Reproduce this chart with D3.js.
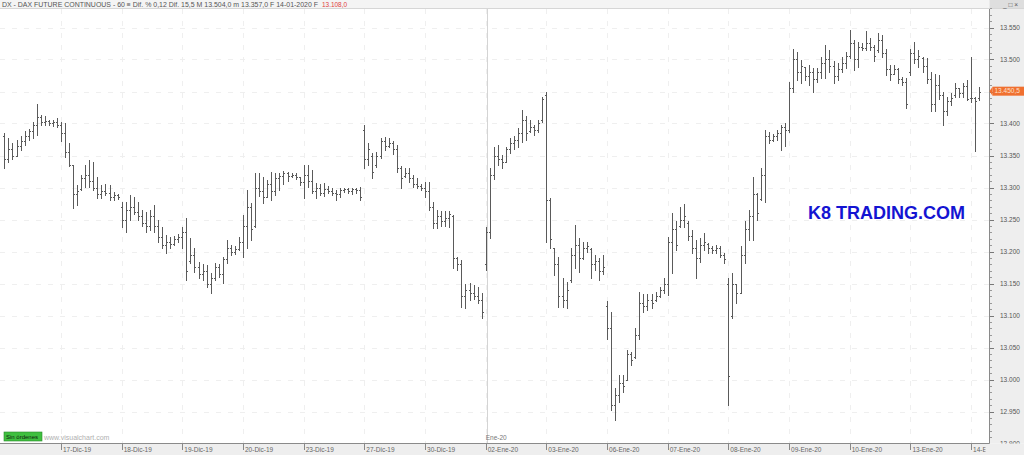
<!DOCTYPE html>
<html><head><meta charset="utf-8">
<script src="https://cdn.jsdelivr.net/npm/d3@7"></script>
<style>
body{margin:0;background:#fff;}
svg{display:block;font-family:"Liberation Sans",Arial,sans-serif;}
</style>
</head><body>
<svg id="c" width="1024" height="455"></svg>
<script>
// ---------- DATA ----------
const dayLabels = ["16-Dic-19","17-Dic-19","18-Dic-19","19-Dic-19","20-Dic-19","23-Dic-19","27-Dic-19","30-Dic-19",
  "02-Ene-20","03-Ene-20","06-Ene-20","07-Ene-20","08-Ene-20","09-Ene-20","10-Ene-20","13-Ene-20","14-Ene-20"];
const barsPerDay = [14,15,15,15,15,15,15,15,15,15,15,15,15,15,15,15,3];
const firstSlot  = [1,0,0,0,0,0,0,0,0,0,0,0,0,0,0,0,0];

const highs = [
 13385,13377,13369,13374,13380,13388,13392,13403,13430,13413,13411,13406,13405,13408,
 13403,13400,13369,13335,13304,13320,13335,13343,13340,13317,13304,13305,13304,13293,13290,
 13278,13278,13288,13285,13278,13265,13262,13265,13273,13249,13239,13226,13223,13225,13227,
 13239,13252,13221,13205,13184,13180,13179,13166,13182,13180,13192,13218,13210,13208,13223,
 13257,13296,13276,13322,13322,13317,13312,13325,13322,13322,13326,13325,13323,13322,13317,
 13335,13335,13327,13307,13305,13307,13303,13300,13296,13300,13300,13299,13300,13300,13301,
 13398,13369,13354,13356,13377,13379,13377,13372,13366,13333,13330,13330,13320,13315,13305,
 13309,13309,13278,13265,13264,13264,13263,13257,13192,13187,13150,13151,13148,13145,13135,
 13239,13330,13364,13366,13351,13364,13377,13380,13393,13421,13411,13405,13398,13405,13442,
 13450,13283,13205,13192,13158,13153,13205,13241,13221,13215,13215,13205,13195,13190,13195,
 13122,13106,12987,13007,13007,13046,13043,13080,13137,13134,13134,13134,13137,13145,13158,
 13223,13260,13247,13270,13275,13247,13234,13218,13221,13229,13213,13208,13210,13208,13197,
 13158,13166,13150,13208,13247,13265,13317,13291,13330,13390,13387,13384,13390,13398,13400,
 13465,13517,13512,13499,13489,13491,13486,13486,13504,13523,13515,13497,13494,13504,13512,
 13546,13530,13528,13525,13544,13533,13523,13541,13538,13517,13491,13491,13486,13473,13471,
 13517,13528,13515,13504,13502,13481,13478,13476,13450,13442,13447,13463,13455,13463,13468,
 13504,13442,13457];
const lows = [
 13330,13340,13345,13350,13358,13366,13374,13377,13382,13398,13398,13397,13396,13395,
 13372,13348,13333,13268,13273,13296,13301,13301,13296,13283,13283,13288,13280,13280,13282,
 13239,13231,13249,13258,13249,13240,13231,13234,13231,13215,13205,13198,13205,13210,13215,
 13205,13155,13182,13168,13159,13155,13145,13135,13155,13160,13151,13182,13194,13196,13202,
 13192,13205,13218,13239,13286,13276,13285,13280,13288,13296,13305,13310,13317,13314,13304,
 13283,13301,13291,13283,13288,13287,13292,13288,13280,13285,13293,13292,13290,13292,13280,
 13330,13335,13315,13332,13346,13359,13364,13353,13325,13299,13317,13309,13301,13299,13296,
 13285,13265,13236,13237,13240,13240,13238,13174,13171,13114,13111,13124,13126,13119,13096,
 13171,13221,13314,13335,13330,13340,13354,13360,13364,13371,13374,13387,13382,13387,13403,
 13215,13205,13163,13114,13114,13112,13153,13174,13168,13189,13200,13158,13171,13155,13165,
 13064,12952,12937,12965,12981,12999,13023,13033,13064,13106,13109,13112,13122,13129,13135,
 13132,13166,13202,13239,13239,13218,13197,13158,13184,13202,13197,13197,13197,13192,13182,
 12960,13096,13119,13135,13182,13218,13218,13249,13280,13278,13369,13372,13374,13359,13365,
 13387,13450,13468,13463,13468,13460,13450,13465,13471,13471,13481,13463,13468,13481,13486,
 13502,13484,13489,13515,13515,13515,13497,13512,13504,13476,13468,13478,13463,13460,13424,
 13476,13494,13489,13481,13463,13419,13419,13439,13398,13413,13429,13442,13442,13442,13437,
 13434,13357,13437];
const opens = [
 13380,13345,13360,13350,13365,13372,13380,13388,13398,13410,13402,13404,13400,13402,
 13398,13385,13355,13335,13290,13298,13315,13320,13310,13300,13290,13295,13292,13285,13288,
 13270,13250,13265,13270,13262,13255,13245,13240,13255,13240,13222,13210,13215,13212,13220,
 13222,13230,13185,13195,13175,13165,13170,13150,13158,13175,13165,13188,13205,13200,13204,
 13215,13240,13270,13240,13300,13295,13285,13305,13295,13315,13318,13322,13318,13320,13316,
 13308,13320,13310,13295,13300,13292,13298,13295,13292,13290,13296,13297,13295,13298,13296,
 13390,13345,13350,13335,13350,13372,13365,13370,13360,13330,13318,13322,13315,13305,13302,
 13300,13295,13270,13245,13255,13248,13252,13256,13190,13180,13130,13140,13135,13130,13125,
 13180,13230,13320,13350,13345,13340,13360,13370,13375,13385,13405,13388,13395,13390,13405,
 13445,13280,13205,13180,13130,13125,13155,13195,13210,13190,13205,13204,13180,13185,13170,
 13115,13080,12960,12975,12995,13000,13040,13035,13070,13120,13115,13125,13124,13130,13140,
 13150,13215,13235,13240,13250,13245,13225,13205,13190,13210,13212,13205,13202,13206,13195,
 13150,13100,13150,13135,13195,13235,13255,13290,13282,13320,13380,13375,13380,13385,13395,
 13390,13455,13500,13480,13488,13475,13480,13470,13480,13495,13500,13490,13475,13485,13495,
 13505,13525,13500,13520,13518,13525,13520,13515,13530,13510,13485,13478,13485,13470,13465,
 13480,13510,13500,13502,13490,13470,13430,13460,13445,13420,13435,13445,13455,13448,13458,
 13440,13440,13440];
const closes = [
 13345,13360,13350,13365,13372,13380,13388,13398,13410,13402,13404,13400,13402,13398,
 13385,13355,13335,13290,13295,13315,13320,13310,13300,13290,13295,13292,13285,13288,13285,
 13250,13265,13270,13262,13255,13245,13240,13255,13240,13222,13210,13215,13212,13220,13222,
 13230,13170,13195,13175,13165,13170,13150,13158,13175,13165,13188,13205,13200,13204,13215,
 13240,13270,13235,13300,13295,13285,13305,13295,13315,13318,13322,13318,13320,13316,13308,
 13320,13310,13295,13300,13292,13298,13295,13292,13290,13296,13297,13295,13298,13296,13285,
 13345,13360,13325,13350,13372,13365,13370,13360,13330,13315,13322,13315,13305,13302,13300,
 13295,13270,13245,13255,13248,13252,13258,13190,13180,13130,13140,13135,13130,13125,13105,
 13230,13320,13350,13345,13340,13360,13370,13375,13385,13405,13385,13395,13390,13400,13438,
 13280,13220,13180,13130,13125,13140,13195,13210,13190,13205,13208,13180,13185,13170,13175,
 13080,12960,12975,12995,12990,13040,13030,13070,13120,13115,13125,13120,13130,13140,13150,
 13215,13235,13210,13250,13255,13225,13205,13190,13210,13215,13205,13202,13206,13195,13188,
 13005,13150,13135,13195,13235,13255,13290,13260,13320,13380,13375,13380,13385,13395,13390,
 13455,13500,13480,13490,13475,13480,13470,13480,13495,13500,13490,13475,13485,13495,13505,
 13525,13500,13520,13518,13525,13520,13505,13530,13510,13485,13478,13485,13470,13465,13430,
 13510,13500,13505,13490,13470,13430,13460,13445,13420,13435,13440,13455,13448,13458,13438,
 13440,13435,13450];

const yTicks = [12900,12950,13000,13050,13100,13150,13200,13250,13300,13350,13400,13450,13500,13550];
const headerText = "DX - DAX FUTURE CONTINUOUS - 60 \u2261 Dif. % 0,12 Dif. 15,5 M 13.504,0 m 13.357,0 F 14-01-2020 F";
const headerRed = "13.108,0";
const lastPriceLabel = "13.450,5";
const lastPrice = 13450.5;
const watermark = "K8 TRADING.COM";
const yearLabel = "Ene-20";

// ---------- LAYOUT ----------
const slotsPerDay = 15;
const plotRight = 989.5, plotTop = 9, plotBottom = 443.5;
const svg = d3.select("#c");
const x = d3.scaleLinear().domain([0, 17*slotsPerDay]).range([0.33, 0.33 + 17*60.67]);
const y = d3.scaleLinear().domain([12900, 13550]).range([443.5, 27.5]);
const loc = d3.formatLocale({decimal:",", thousands:".", grouping:[3], currency:["",""]});
const fmt = loc.format(",.0f");

const bars = [];
let idx = 0;
barsPerDay.forEach((n, d) => {
  for (let j = 0; j < n; j++) {
    bars.push({slot: d*slotsPerDay + firstSlot[d] + j, o: opens[idx], h: highs[idx], l: lows[idx], c: closes[idx]});
    idx++;
  }
});

svg.append("rect").attr("width",1024).attr("height",455).attr("fill","#fff");

svg.append("clipPath").attr("id","plot").append("rect")
  .attr("x",0).attr("y",plotTop).attr("width",plotRight).attr("height",plotBottom-plotTop);

const grid = svg.append("g").attr("clip-path","url(#plot)");
grid.selectAll("line.h").data(yTicks).join("line")
  .attr("x1",0).attr("x2",plotRight)
  .attr("y1",d=>Math.round(y(d))+0.5).attr("y2",d=>Math.round(y(d))+0.5)
  .attr("stroke","#efefef").attr("stroke-dasharray","5,7");
const dayIdx = d3.range(1, dayLabels.length);
grid.selectAll("line.v").data(dayIdx).join("line")
  .attr("x1",d=>Math.round(x(d*slotsPerDay))+0.5).attr("x2",d=>Math.round(x(d*slotsPerDay))+0.5)
  .attr("y1",plotTop).attr("y2",plotBottom)
  .attr("stroke","#efefef").attr("stroke-dasharray","5,7");
grid.append("line")
  .attr("x1",Math.round(x(8*slotsPerDay))+1.5).attr("x2",Math.round(x(8*slotsPerDay))+1.5)
  .attr("y1",plotTop).attr("y2",plotBottom).attr("stroke","#d4d4d4");

// OHLC bars
const bg = svg.append("g").attr("clip-path","url(#plot)")
  .attr("stroke","#5a5a5a").attr("stroke-width",1).attr("shape-rendering","crispEdges");
bg.selectAll("path").data(bars).join("path")
  .attr("d", b => {
    const cx = Math.round(x(b.slot)) + 0.5;
    const yh = Math.round(y(b.h)), yl = Math.round(y(b.l));
    const yo = Math.round(y(b.o)) + 0.5, yc = Math.round(y(b.c)) + 0.5;
    return `M${cx},${yh}V${yl+1}M${cx-1.5},${yo}H${cx}M${cx},${yc}H${cx+1.5}`;
  });

// watermark
svg.append("text").attr("x",808).attr("y",219).text(watermark)
  .attr("font-size",18).attr("font-weight","bold").attr("fill","#1414d2")
  .attr("textLength",157).attr("lengthAdjust","spacingAndGlyphs");

// header strip
svg.append("rect").attr("x",0).attr("y",0).attr("width",1024).attr("height",plotTop).attr("fill","#f4f4f4");
svg.append("rect").attr("x",plotRight).attr("y",0).attr("width",1024-plotRight).attr("height",plotTop).attr("fill","#dedede");
svg.append("line").attr("x1",0).attr("x2",1024).attr("y1",plotTop-0.5).attr("y2",plotTop-0.5).attr("stroke","#d6d6d6");
svg.append("text").attr("x",2).attr("y",6.5).attr("font-size",6.5).attr("fill","#555")
  .attr("textLength",316).attr("lengthAdjust","spacingAndGlyphs").text(headerText);
svg.append("text").attr("x",322).attr("y",6.5).attr("font-size",6.5).attr("fill","#e04040")
  .attr("textLength",25).attr("lengthAdjust","spacingAndGlyphs").text(headerRed);
svg.append("text").attr("x",1003).attr("y",6.5).attr("font-size",6.5).attr("fill","#555").text("_ \u25a1 \u00d7");

// right axis panel
svg.append("rect").attr("x",plotRight).attr("y",plotTop).attr("width",1024-plotRight).attr("height",plotBottom-plotTop).attr("fill","#eeeeee");
const ra = svg.append("g").attr("shape-rendering","crispEdges");
ra.append("line").attr("x1",plotRight).attr("x2",plotRight).attr("y1",plotTop).attr("y2",plotBottom).attr("stroke","#8a8a8a");
const minor = d3.range(12900, 13581, 10);
ra.selectAll("line.mi").data(minor).join("line")
  .attr("x1",plotRight).attr("x2",plotRight+2)
  .attr("y1",d=>Math.round(y(d))+0.5).attr("y2",d=>Math.round(y(d))+0.5).attr("stroke","#9a9a9a");
ra.selectAll("line.ma").data(yTicks).join("line")
  .attr("x1",plotRight).attr("x2",plotRight+4)
  .attr("y1",d=>Math.round(y(d))+0.5).attr("y2",d=>Math.round(y(d))+0.5).attr("stroke","#777");
const yl = y(lastPrice);
svg.selectAll("text.yl").data(yTicks.filter(d => Math.abs(y(d) - yl) > 9)).join("text")
  .attr("x",1000).attr("y",d=>y(d)+2.2).attr("font-size",6.5).attr("fill","#555").text(d=>fmt(d));

// last price label
svg.append("path").attr("d",`M${plotRight},${yl}L${plotRight+3},${yl-4.5}V${yl+4.5}Z`).attr("fill","#f07030");
svg.append("rect").attr("x",plotRight+3).attr("y",yl-4.5).attr("width",32).attr("height",9).attr("fill","#f07030");
svg.append("text").attr("x",plotRight+5).attr("y",yl+2.2).attr("font-size",6.5).attr("fill","#fde0cc").text(lastPriceLabel);

// bottom axis
svg.append("rect").attr("x",0).attr("y",plotBottom).attr("width",1024).attr("height",455-plotBottom).attr("fill","#eeeeee");
svg.append("line").attr("x1",0).attr("x2",plotRight).attr("y1",plotBottom).attr("y2",plotBottom).attr("stroke","#8a8a8a");
svg.append("clipPath").attr("id","plotx").append("rect").attr("x",0).attr("y",plotBottom).attr("width",plotRight-4).attr("height",455-plotBottom);
const xa = svg.append("g").attr("clip-path","url(#plotx)");
xa.selectAll("line").data(dayIdx).join("line")
  .attr("x1",d=>Math.round(x(d*slotsPerDay))+0.5).attr("x2",d=>Math.round(x(d*slotsPerDay))+0.5)
  .attr("y1",plotBottom).attr("y2",plotBottom+6).attr("stroke","#888").attr("shape-rendering","crispEdges");
xa.selectAll("text").data(dayIdx).join("text")
  .attr("x",d=>x(d*slotsPerDay)+2).attr("y",452).attr("font-size",6.5).attr("fill","#666").text(d=>dayLabels[d]);
svg.append("text").attr("x",x(8*slotsPerDay)).attr("y",440).attr("font-size",6.5).attr("fill","#777").text(yearLabel);

// bottom-left badge
svg.append("rect").attr("x",4).attr("y",432).attr("width",38).attr("height",9).attr("fill","#3fbf3f").attr("stroke","#2a8a2a").attr("stroke-width",0.6);
svg.append("text").attr("x",6).attr("y",439).attr("font-size",6).attr("fill","#102010").text("Sin órdenes");
svg.append("text").attr("x",44).attr("y",440).attr("font-size",7).attr("fill","#b0b0b0").text("www.visualchart.com");
</script>
</body></html>
